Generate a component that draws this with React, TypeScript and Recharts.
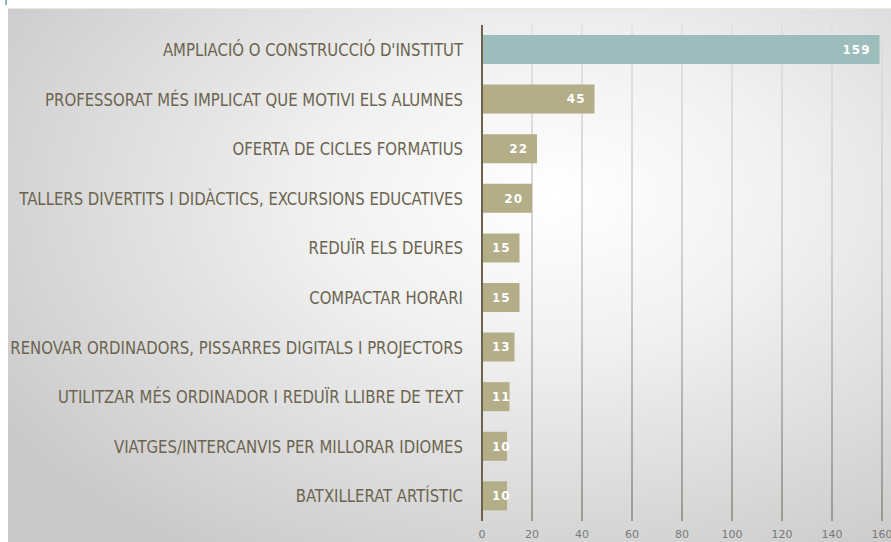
import { BarChart, Bar, XAxis, YAxis, CartesianGrid, Cell, LabelList } from "recharts";

const categories = [
  "AMPLIACIÓ O CONSTRUCCIÓ D'INSTITUT",
  "PROFESSORAT MÉS IMPLICAT QUE MOTIVI ELS ALUMNES",
  "OFERTA DE CICLES FORMATIUS",
  "TALLERS DIVERTITS I DIDÀCTICS, EXCURSIONS EDUCATIVES",
  "REDUÏR ELS DEURES",
  "COMPACTAR HORARI",
  "RENOVAR ORDINADORS, PISSARRES DIGITALS I PROJECTORS",
  "UTILITZAR MÉS ORDINADOR I REDUÏR LLIBRE DE TEXT",
  "VIATGES/INTERCANVIS PER MILLORAR IDIOMES ",
  "BATXILLERAT ARTÍSTIC",
];
const valors = [159, 45, 22, 20, 15, 15, 13, 11, 10, 10];
const xTicks = [0, 20, 40, 60, 80, 100, 120, 140, 160];

const dades = categories.map((c, i) => ({ categoria: c, valor: valors[i] }));

const TEAL = "#9dbdbc";
const OLIVA = "#b3ad88";
const TEXT = "#6b644f";

function EtiquetaValor(props: any) {
  const { x, y, width, height, value } = props;
  const curt = width < 40;
  return (
    <text
      x={curt ? x + 10 : x + width - 9}
      y={y + height / 2}
      dy="0.36em"
      textAnchor={curt ? "start" : "end"}
      fill="#ffffff"
      fontFamily="DejaVu Sans, sans-serif"
      fontWeight="bold"
      fontSize={12}
      letterSpacing={1}
    >
      {value}
    </text>
  );
}

// etiqueta de categoria, una mica estreta com l'original
function EtiquetaCategoria(props: any) {
  const { x, y, payload } = props;
  return (
    <g transform={`translate(${x},${y}) scale(0.975,1)`}>
      <text
        x={0}
        y={0}
        dy="0.36em"
        textAnchor="end"
        fill={TEXT}
        fontSize={17}
        fontFamily="DejaVu Sans Condensed, DejaVu Sans, sans-serif"
      >
        {payload.value}
      </text>
    </g>
  );
}

export default function App() {
  return (
    <div
      style={{
        position: "absolute",
        left: 0,
        top: 0,
        width: 891,
        height: 542,
        background: "#ffffff",
        overflow: "hidden",
      }}
    >
      <div style={{ position: "absolute", left: 5, top: 0, width: 2, height: 5, background: "#8fb8b8" }} />
      <div
        style={{
          position: "absolute",
          left: 8,
          top: 8,
          width: 883,
          height: 534,
          borderTop: "1px solid #ece9dc",
          background: "radial-gradient(ellipse 75% 80% at 62% 35%, #ffffff 0%, #f1f1f1 35%, #c9c9c9 100%)",
        }}
      />
      <div style={{ position: "absolute", left: 0, top: 0 }}>
        <BarChart
          width={891}
          height={542}
          data={dades}
          layout="vertical"
          margin={{ top: 25, right: 9, bottom: 0, left: 0 }}
        >
          <defs>
            <linearGradient id="gradReixa" gradientUnits="userSpaceOnUse" x1="0" y1="25" x2="0" y2="521">
              <stop offset="0%" stopColor="#dedede" />
              <stop offset="50%" stopColor="#c0c0c0" />
              <stop offset="100%" stopColor="#8a867c" />
            </linearGradient>
          </defs>
          <CartesianGrid horizontal={false} stroke="url(#gradReixa)" strokeWidth={1.5} />
          <XAxis
            type="number"
            domain={[0, 160]}
            ticks={xTicks}
            axisLine={false}
            tickLine={false}
            tickSize={0}
            tickMargin={9}
            height={21}
            tick={{ fill: "#7a7a7a", fontSize: 11, fontFamily: "DejaVu Sans, sans-serif" }}
          />
          <YAxis
            type="category"
            dataKey="categoria"
            width={482}
            axisLine={{ stroke: TEXT, strokeWidth: 2 }}
            tickLine={false}
            tickSize={0}
            tickMargin={19}
            interval={0}
            tick={<EtiquetaCategoria />}
          />
          <Bar dataKey="valor" barSize={29} isAnimationActive={false}>
            {dades.map((d, i) => (
              <Cell key={d.categoria} fill={i === 0 ? TEAL : OLIVA} />
            ))}
            <LabelList dataKey="valor" content={EtiquetaValor} />
          </Bar>
        </BarChart>
      </div>
    </div>
  );
}
